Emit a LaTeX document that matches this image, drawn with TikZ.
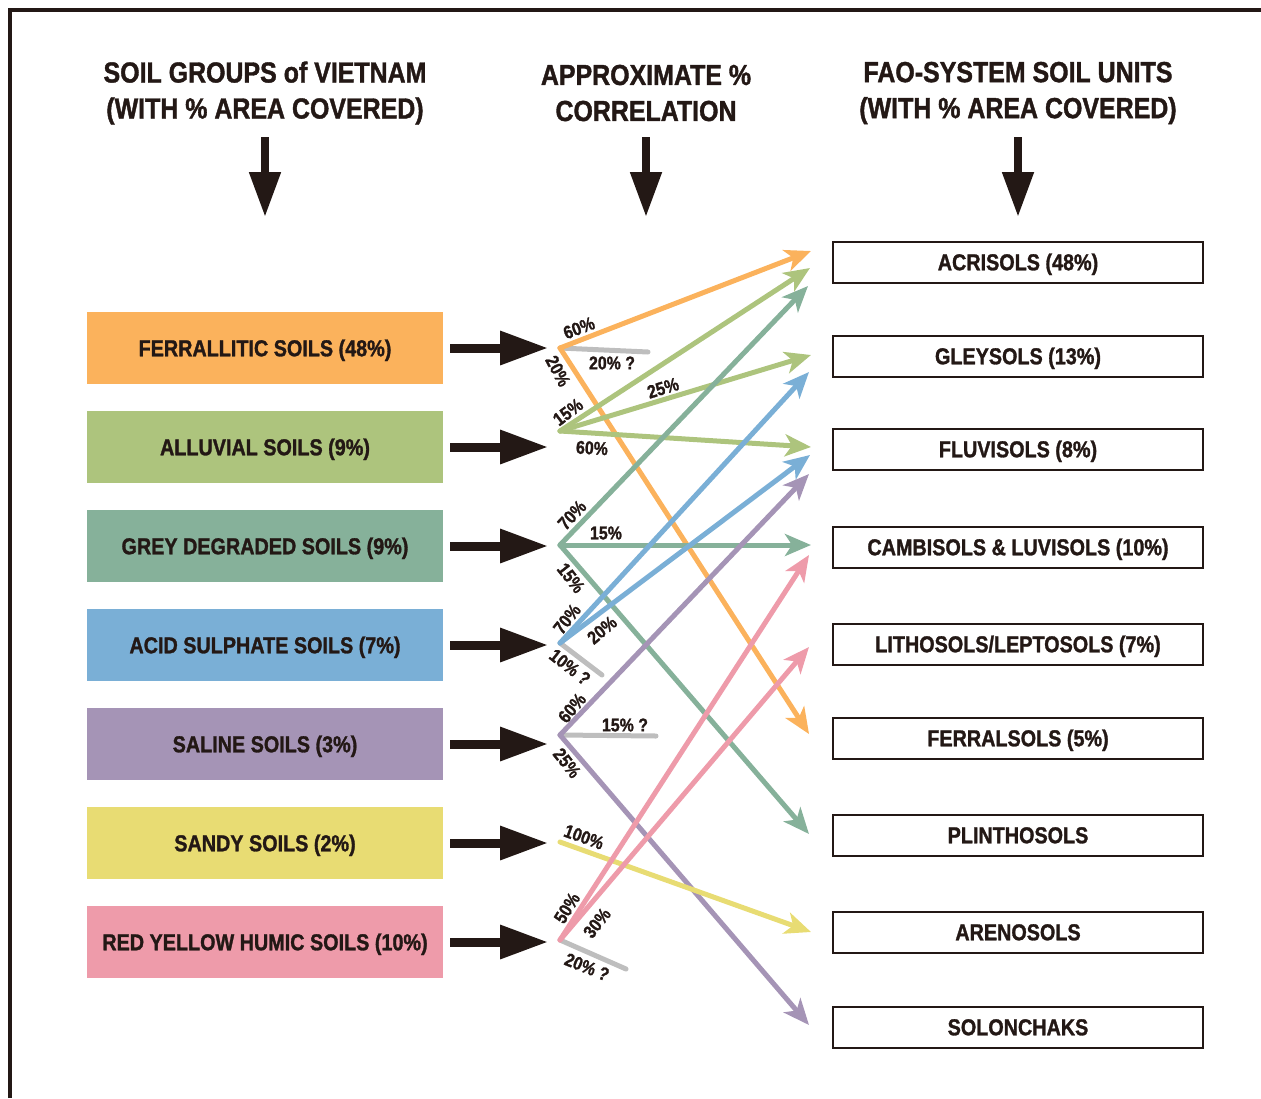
\documentclass[tikz,border=0pt]{standalone}
\usepackage{fontspec}
\setmainfont{Liberation Sans}[FakeStretch=0.86, BoldFeatures={FakeBold=1.3}]
\usetikzlibrary{arrows.meta,calc}
\definecolor{ink}{HTML}{231815}
\definecolor{cOrange}{HTML}{FBB25C}
\definecolor{cGreen}{HTML}{ADC47D}
\definecolor{cTeal}{HTML}{86B19A}
\definecolor{cBlue}{HTML}{7AAFD6}
\definecolor{cPurple}{HTML}{A594B6}
\definecolor{cYellow}{HTML}{E8DC73}
\definecolor{cPink}{HTML}{EE9BAA}
\definecolor{cGrey}{HTML}{BEBEBE}
\tikzset{
  lbox/.style={minimum width=356pt, minimum height=72pt, inner sep=0pt,
    text height=16.5pt, text depth=0pt,
    font=\fontsize{23}{26}\selectfont\bfseries, text=ink},
  rbox/.style={draw=ink, line width=2pt, minimum width=370pt, minimum height=41pt,
    inner sep=0pt, text height=16.5pt, text depth=0pt,
    font=\fontsize{23}{26}\selectfont\bfseries, text=ink},
  head/.style={align=center, font=\fontsize{29}{36}\selectfont\bfseries, text=ink},
  pct/.style={font=\fontsize{18.5}{20}\selectfont\bfseries, text=ink, inner sep=0pt},
  blk/.style={draw=ink, line width=9pt, -{Triangle[length=48pt,width=32pt]}},
  hd/.style={draw=ink, line width=8pt, -{Triangle[length=45pt,width=30pt]}},
  corr/.style={line width=5pt, line cap=round, -{Stealth[length=26pt,width=22pt,inset=7pt]}},
  stub/.style={draw=cGrey, line width=5pt, line cap=round},
}
\begin{document}
\begin{tikzpicture}[x=1pt, y=-1pt]
    \useasboundingbox (0,0) rectangle (1261,1098);
    % frame
    \draw[ink, line width=4.5pt] (10,1098) -- (10,10) -- (1261,10);

    % headings
    \node[head] (h1) at (265,93) {SOIL GROUPS of VIETNAM\\(WITH \% AREA COVERED)};
    \node[head] (h2) at (646,93) {APPROXIMATE \%\\CORRELATION};
    \node[head] (h3) at (1018,93) {FAO-SYSTEM SOIL UNITS\\(WITH \% AREA COVERED)};
    \draw[hd] (h1.south |- 0,137) -- ++(0,80);
    \draw[hd] (h2.south |- 0,137) -- ++(0,80);
    \draw[hd] (h3.south |- 0,137) -- ++(0,80);

    % soil groups of Vietnam
    \node[lbox, fill=cOrange] (ferr) at (265,348) {FERRALLITIC SOILS (48\%)};
    \node[lbox, fill=cGreen]  (allu) at (265,447) {ALLUVIAL SOILS (9\%)};
    \node[lbox, fill=cTeal]   (grey) at (265,546) {GREY DEGRADED SOILS (9\%)};
    \node[lbox, fill=cBlue]   (acid) at (265,645) {ACID SULPHATE SOILS (7\%)};
    \node[lbox, fill=cPurple] (sal)  at (265,744) {SALINE SOILS (3\%)};
    \node[lbox, fill=cYellow] (sand) at (265,843) {SANDY SOILS (2\%)};
    \node[lbox, fill=cPink]   (ryh)  at (265,942) {RED YELLOW HUMIC SOILS (10\%)};
    \foreach \g in {ferr,allu,grey,acid,sal,sand,ryh}
        \draw[blk] ([xshift=7pt]\g.east) -- ++(98,0);

    % FAO soil units
    \node[rbox] (acr)    at (1018,262)  {ACRISOLS (48\%)};
    \node[rbox] (gley)   at (1018,356)  {GLEYSOLS (13\%)};
    \node[rbox] (fluv)   at (1018,449)  {FLUVISOLS (8\%)};
    \node[rbox] (camb)   at (1018,547)  {CAMBISOLS \& LUVISOLS (10\%)};
    \node[rbox] (lith)   at (1018,644)  {LITHOSOLS/LEPTOSOLS (7\%)};
    \node[rbox] (ferral) at (1018,738)  {FERRALSOLS (5\%)};
    \node[rbox] (plin)   at (1018,835)  {PLINTHOSOLS};
    \node[rbox] (aren)   at (1018,932)  {ARENOSOLS};
    \node[rbox] (solon)  at (1018,1027) {SOLONCHAKS};

    % start and end points
    \coordinate (s-ferr) at (560,348);
    \coordinate (s-allu) at (560,431);
    \coordinate (s-grey) at (560,545);
    \coordinate (s-acid) at (560,643);
    \coordinate (s-sal)  at (560,735);
    \coordinate (s-sand) at (560,842);
    \coordinate (s-ryh)  at (560,940);
    \coordinate (t-acr1) at ($(acr.west)+(-21,-11)$);
    \coordinate (t-acr2) at ($(acr.west)+(-22,6)$);
    \coordinate (t-acr3) at ($(acr.west)+(-24,24)$);
    \coordinate (t-gley1) at ($(gley.west)+(-21,-1)$);
    \coordinate (t-gley2) at ($(gley.west)+(-23,16)$);
    \coordinate (t-fluv1) at ($(fluv.west)+(-21,-2)$);
    \coordinate (t-fluv2) at ($(fluv.west)+(-22,6)$);
    \coordinate (t-fluv3) at ($(fluv.west)+(-23,25)$);
    \coordinate (t-camb1) at ($(camb.west)+(-21,-2)$);
    \coordinate (t-camb2) at ($(camb.west)+(-23,8)$);
    \coordinate (t-lith) at ($(lith.west)+(-23,3)$);
    \coordinate (t-ferral) at ($(ferral.west)+(-23,-4)$);
    \coordinate (t-plin) at ($(plin.west)+(-23,-1)$);
    \coordinate (t-aren) at ($(aren.west)+(-21,0)$);
    \coordinate (t-solon) at ($(solon.west)+(-23,-2)$);

    % grey stubs
    \draw[stub] (s-ferr) -- (648,352);
    \draw[stub] (s-acid) -- (602,675);
    \draw[stub] (s-sal) -- (656,736);
    \draw[stub] (s-ryh) -- (626,969);

    % correlations
    \draw[corr, cOrange] (s-ferr) -- (t-acr1);
    \draw[corr, cOrange] (s-ferr) -- (t-ferral);
    \draw[corr, cGreen] (s-allu) -- (t-acr2);
    \draw[corr, cGreen] (s-allu) -- (t-gley1);
    \draw[corr, cGreen] (s-allu) -- (t-fluv1);
    \draw[corr, cTeal] (s-grey) -- (t-acr3);
    \draw[corr, cTeal] (s-grey) -- (t-camb1);
    \draw[corr, cTeal] (s-grey) -- (t-plin);
    \draw[corr, cBlue] (s-acid) -- (t-gley2);
    \draw[corr, cBlue] (s-acid) -- (t-fluv2);
    \draw[corr, cPurple] (s-sal) -- (t-fluv3);
    \draw[corr, cPurple] (s-sal) -- (t-solon);
    \draw[corr, cYellow] (s-sand) -- (t-aren);
    \draw[corr, cPink] (s-ryh) -- (t-camb2);
    \draw[corr, cPink] (s-ryh) -- (t-lith);

    % percentages
    \node[pct, rotate=21]  (p1)  at (579,328) {60\%};
    \node[pct]             (p2)  at (612,363) {20\% ?};
    \node[pct, rotate=-62] (p3)  at (558,371) {20\%};
    \node[pct, rotate=37]  (p4)  at (568,412) {15\%};
    \node[pct, rotate=17]  (p5)  at (663,388) {25\%};
    \node[pct, rotate=-3]  (p6)  at (592,448) {60\%};
    \node[pct, rotate=47]  (p7)  at (572,515) {70\%};
    \node[pct]             (p8)  at (606,533) {15\%};
    \node[pct, rotate=-52] (p9)  at (571,578) {15\%};
    \node[pct, rotate=52]  (p10) at (567,619) {70\%};
    \node[pct, rotate=40]  (p11) at (602,630) {20\%};
    \node[pct, rotate=-38] (p12) at (570,667) {10\% ?};
    \node[pct, rotate=50]  (p13) at (572,708) {60\%};
    \node[pct]             (p14) at (625,725) {15\% ?};
    \node[pct, rotate=-52] (p15) at (567,763) {25\%};
    \node[pct, rotate=-20] (p16) at (584,837) {100\%};
    \node[pct, rotate=58]  (p17) at (567,908) {50\%};
    \node[pct, rotate=52]  (p18) at (597,923) {30\%};
    \node[pct, rotate=-22] (p19) at (587,967) {20\% ?};
\end{tikzpicture}
\end{document}
